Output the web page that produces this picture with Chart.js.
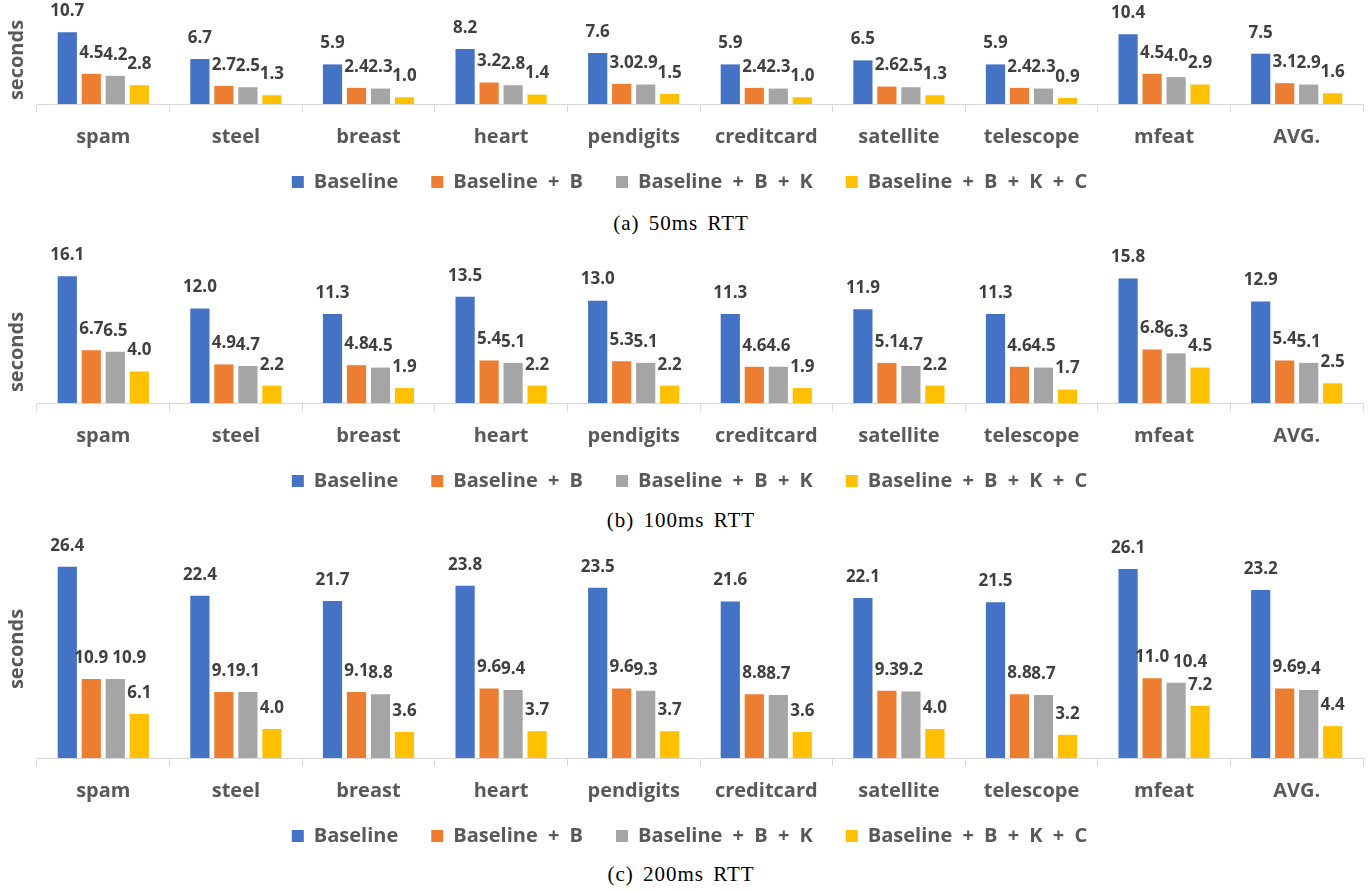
<!DOCTYPE html>
<html><head><meta charset="utf-8">
<script src="https://cdn.jsdelivr.net/npm/chart.js@4.4.1/dist/chart.umd.min.js"></script>
<style>
html,body{margin:0;padding:0;background:#fff;width:1369px;height:890px;overflow:hidden;position:relative}
canvas{position:absolute;left:0}
.cap{position:absolute;left:0;width:1362px;text-align:center;font-family:"Liberation Serif","Times New Roman",serif;font-size:21px;line-height:24px;color:#000;word-spacing:3px;letter-spacing:1px}
</style></head><body>
<canvas id="c1" width="1369" height="202" style="top:0px"></canvas>
<div class="cap" style="top:211px">(a) 50ms RTT</div>
<canvas id="c2" width="1369" height="261" style="top:240px"></canvas>
<div class="cap" style="top:508px">(b) 100ms RTT</div>
<canvas id="c3" width="1369" height="321" style="top:535px"></canvas>
<div class="cap" style="top:862px">(c) 200ms RTT</div>
<script>
const categories = ['spam','steel','breast','heart','pendigits','creditcard','satellite','telescope','mfeat','AVG.'];
const seriesNames = ['Baseline','Baseline + B','Baseline + B + K','Baseline + B + K + C'];
const seriesColors = ['#4472C4','#ED7D31','#A5A5A5','#FFC000'];

// (a) 50ms RTT
const base50  = [10.7, 6.7, 5.9, 8.2, 7.6, 5.9, 6.5, 5.9, 10.4, 7.5];
const b50     = [4.5, 2.7, 2.4, 3.2, 3.0, 2.4, 2.6, 2.4, 4.5, 3.1];
const bk50    = [4.2, 2.5, 2.3, 2.8, 2.9, 2.3, 2.5, 2.3, 4.0, 2.9];
const bkc50   = [2.8, 1.3, 1.0, 1.4, 1.5, 1.0, 1.3, 0.9, 2.9, 1.6];
// (b) 100ms RTT
const base100 = [16.1, 12.0, 11.3, 13.5, 13.0, 11.3, 11.9, 11.3, 15.8, 12.9];
const b100    = [6.7, 4.9, 4.8, 5.4, 5.3, 4.6, 5.1, 4.6, 6.8, 5.4];
const bk100   = [6.5, 4.7, 4.5, 5.1, 5.1, 4.6, 4.7, 4.5, 6.3, 5.1];
const bkc100  = [4.0, 2.2, 1.9, 2.2, 2.2, 1.9, 2.2, 1.7, 4.5, 2.5];
// (c) 200ms RTT
const base200 = [26.4, 22.4, 21.7, 23.8, 23.5, 21.6, 22.1, 21.5, 26.1, 23.2];
const b200    = [10.9, 9.1, 9.1, 9.6, 9.6, 8.8, 9.3, 8.8, 11.0, 9.6];
const bk200   = [10.9, 9.1, 8.8, 9.4, 9.3, 8.7, 9.2, 8.7, 10.4, 9.4];
const bkc200  = [6.1, 4.0, 3.6, 3.7, 3.7, 3.6, 4.0, 3.2, 7.2, 4.4];

const yTitleText = 'seconds';

const spacing = {
  id: 'spacing',
  beforeLayout(chart) { chart.ctx.wordSpacing = '5px'; },
  beforeDraw(chart) { chart.ctx.wordSpacing = '5px'; }
};
const axisRoom = {
  id: 'axisRoom',
  afterLayout(chart) { const s = chart.scales.x; s.bottom = s.top + 50; }
};
const valueLabels = {
  id: 'valueLabels',
  afterDatasetsDraw(chart) {
    const ctx = chart.ctx;
    ctx.save();
    ctx.font = 'bold 17px "Open Sans"';
    ctx.fillStyle = '#404040';
    ctx.textAlign = 'center';
    ctx.textBaseline = 'middle';
    const n = chart.data.labels.length;
    for (let j = 0; j < n; j++) {
      const placed = [];
      chart.data.datasets.forEach((ds, i) => {
        const bar = chart.getDatasetMeta(i).data[j];
        const txt = ds.data[j].toFixed(1);
        const w = ctx.measureText(txt).width;
        let cx = bar.x;
        const cy = bar.y - 21;
        for (const p of placed) {
          const overlapV = Math.abs(p.cy - cy) < 14;
          const left = cx - w / 2;
          if (overlapV && left < p.right - 1 && cx + w / 2 > p.left) {
            cx = p.right + 4 + w / 2;
          }
        }
        placed.push({ left: cx - w / 2, right: cx + w / 2, cy });
        ctx.fillText(txt, cx, cy);
      });
    }
    ctx.restore();
  }
};
const yTitle = {
  id: 'yTitle',
  afterDraw(chart, args, opts) {
    const ctx = chart.ctx;
    ctx.save();
    ctx.translate(opts.x, opts.y);
    ctx.rotate(-Math.PI / 2);
    ctx.font = 'bold 20px "Open Sans"';
    ctx.fillStyle = '#595959';
    ctx.textAlign = 'center';
    ctx.textBaseline = 'middle';
    ctx.fillText(opts.text, 0, 0);
    ctx.restore();
  }
};

function makeChart(id, series, yMax, titleY) {
  return new Chart(document.getElementById(id), {
    type: 'bar',
    data: {
      labels: categories,
      datasets: series.map((d, i) => ({
        label: seriesNames[i],
        data: d,
        backgroundColor: seriesColors[i],
        borderWidth: 0,
        barPercentage: 0.8,
        categoryPercentage: 0.724
      }))
    },
    options: {
      responsive: false,
      animation: false,
      devicePixelRatio: 1,
      layout: { padding: { left: 11, right: 1, top: 0, bottom: 0 } },
      scales: {
        x: {
          grid: { offset: true, drawOnChartArea: false, drawTicks: true, tickLength: 8, color: '#d9d9d9', lineWidth: 1 },
          border: { color: '#d9d9d9', width: 1 },
          ticks: { font: { family: '"Open Sans"', size: 20, weight: 'bold' }, color: '#595959', padding: 13, maxRotation: 0, autoSkip: false },
          afterFit(s) { s.height = 35; }
        },
        y: {
          display: true, min: 0, max: yMax,
          grid: { display: false }, border: { display: false },
          ticks: { display: false },
          afterFit(s) { s.width = 26; }
        },
        yRight: {
          display: true, position: 'right', min: 0, max: yMax,
          grid: { display: false }, border: { display: false },
          ticks: { display: false },
          afterFit(s) { s.width = 5; }
        }
      },
      plugins: {
        legend: {
          position: 'bottom',
          labels: { boxWidth: 12, boxHeight: 12, padding: 33, color: '#595959', font: { family: '"Open Sans"', size: 20, weight: 'bold' } }
        },
        tooltip: { enabled: false },
        yTitle: { x: 17, y: titleY, text: yTitleText }
      }
    },
    plugins: [spacing, axisRoom, valueLabels, yTitle]
  });
}

makeChart('c1', [base50, b50, bk50, bkc50], 15.5, 60);
makeChart('c2', [base100, b100, bk100, bkc100], 20.7, 112);
makeChart('c3', [base200, b200, bk200, bkc200], 30.8, 114);
</script>
</body></html>
